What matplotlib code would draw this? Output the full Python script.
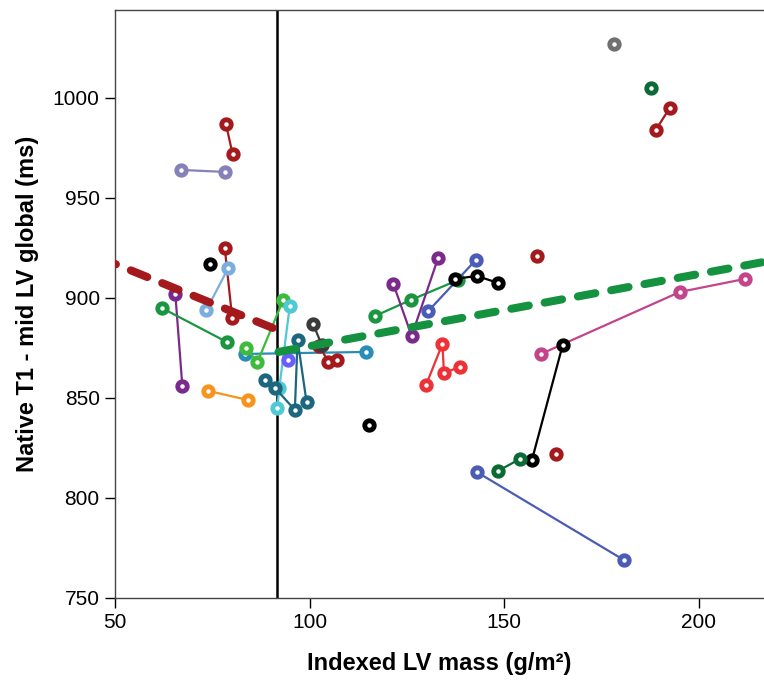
import matplotlib.pyplot as plt

plt.rcParams['font.family'] = ['Liberation Sans', 'DejaVu Sans']

# each patient: indexed LV mass (g/m2), native T1 (ms), colour
patients = [
    ([78.5, 80.2], [987, 972], '#a3191c'),
    ([66.9, 78.2], [964, 963], '#8582b8'),
    ([78.2, 80.1], [925, 890], '#a3191c'),
    ([74.3], [917], '#000000'),
    ([79.1, 73.5], [915, 894], '#7aaede'),
    ([65.5, 67.3], [902, 856], '#7b2a8c'),
    ([62.0, 78.7], [895, 878], '#1a9641'),
    ([74.0, 84.1], [853.5, 849], '#f7941d'),
    ([83.4, 114.5], [872, 873], '#2a8db8'),
    ([83.6, 86.6, 93.2], [875, 868, 899], '#3dbb3d'),
    ([94.9, 92.2, 91.7], [896, 855, 845], '#4fc9d3'),
    ([88.5, 91.1, 96.2, 96.9, 99.2], [859, 855, 844, 879, 848], '#1c6680'),
    ([94.5], [869], '#6b5cff'),
    ([102.5, 104.8, 106.9], [876, 868, 869], '#a3191c'),
    ([100.9, 103.1], [887, 876.5], '#3a3a3a'),
    ([116.8, 126.0, 138.2], [891, 899, 909], '#1a9641'),
    ([121.5, 126.2, 133.0], [907, 881, 920], '#7b2a8c'),
    ([130.5, 142.7], [893.5, 919], '#4a5cb5'),
    ([137.3, 142.9, 148.4], [909.5, 911, 907.5], '#000000'),
    ([158.3], [921], '#a3191c'),
    ([129.9, 134.1, 134.5, 138.6], [856.5, 877, 862.5, 865.5], '#ec3237'),
    ([115.2], [836.5], '#000000'),
    ([159.4, 195.1, 211.8], [872, 903, 909.5], '#c2458c'),
    ([157.1, 165.0], [819, 876.5], '#000000'),
    ([148.4, 154.0], [813.5, 819.5], '#0b6b35'),
    ([142.9, 180.7], [813, 769], '#4a5cb5'),
    ([163.4], [822], '#a3191c'),
    ([178.2], [1027], '#707070'),
    ([187.8], [1005], '#0b6b35'),
    ([188.9, 192.5], [984, 995], '#a3191c'),
]

# fitted trend lines either side of the cut-off
cutoff = 91.7
low_fit_x = [90.5, 50]
low_fit_y = [885, 917]
high_fit_x = [92, 216.7]
high_fit_y = [873, 918]

fig = plt.figure(figsize=(7.64, 6.83), dpi=100)
ax = fig.add_axes([0.1505, 0.1245, 0.8495, 0.861])

for xs, ys, c in patients:
    ax.plot(xs, ys, color=c, lw=1.6, marker='o', ms=6.8, mew=3.5,
            mfc='white', mec=c, zorder=3)

ax.plot(low_fit_x, low_fit_y, color='#a3191c', lw=5.8, ls=(0, (2.2, 2.0)),
        dash_capstyle='round', zorder=4)
ax.plot(high_fit_x, high_fit_y, color='#14923f', lw=5.8, ls=(0, (2.2, 2.0)),
        dash_capstyle='round', zorder=4)
ax.axvline(cutoff, color='black', lw=1.8, zorder=2)

ax.set_xlim(50, 216.7)
ax.set_ylim(750, 1044)
ax.set_xticks([50, 100, 150, 200])
ax.set_yticks([750, 800, 850, 900, 950, 1000])
ax.tick_params(direction='out', length=7, width=1, labelsize=15, pad=4)
ax.spines['right'].set_visible(False)
for s in ['left', 'bottom', 'top']:
    ax.spines[s].set_color('#444444')
    ax.spines[s].set_linewidth(1)

ax.set_xlabel('Indexed LV mass (g/m²)', fontsize=17, fontweight='bold', labelpad=14)
ax.set_ylabel('Native T1 - mid LV global (ms)', fontsize=17, fontweight='bold', labelpad=10)

fig.savefig('out.png', dpi=100)
